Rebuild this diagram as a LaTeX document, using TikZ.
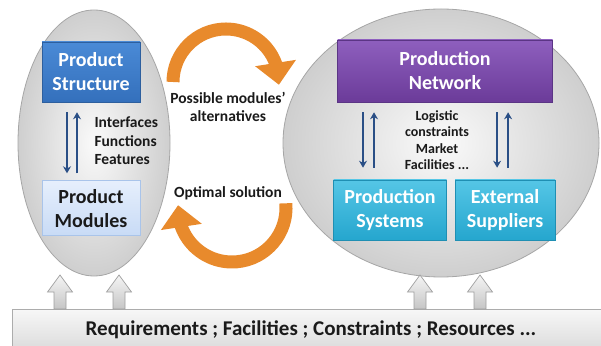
\documentclass[tikz,border=0pt]{standalone}
\usepackage{fontspec}
\setmainfont{Carlito}
\usetikzlibrary{arrows.meta, bending, positioning}

\definecolor{structtop}{HTML}{4A8AD6}
\definecolor{structbot}{HTML}{3470BC}
\definecolor{structline}{HTML}{2D5F9E}
\definecolor{modtop}{HTML}{E6EFFC}
\definecolor{modbot}{HTML}{C8DBF6}
\definecolor{modline}{HTML}{A9C4EA}
\definecolor{nettop}{HTML}{8E5FBE}
\definecolor{netbot}{HTML}{6B3B99}
\definecolor{netline}{HTML}{5B3585}
\definecolor{systop}{HTML}{55C6E6}
\definecolor{sysbot}{HTML}{25A6CE}
\definecolor{sysline}{HTML}{1F8FB3}
\definecolor{swoopcol}{HTML}{E88A2C}
\definecolor{linkcol}{HTML}{2A4F86}
\definecolor{txtcol}{HTML}{1A1A1A}

\tikzset{
  cloud/.style={draw=gray!70, line width=0.8pt, inner color=gray!4, outer color=gray!38},
  box/.style={draw, line width=0.6pt, inner sep=0pt, align=center, text=white,
    font=\bfseries\fontsize{20}{24}\selectfont},
  link/.style={draw=linkcol, line width=2pt, -{Stealth[length=7pt,width=8pt]}},
  swoop/.style={draw=swoopcol, line width=13pt, -{Triangle[length=22pt,width=40pt]}},
  hollow/.style={draw=gray!75, line width=0.7pt, top color=gray!8, bottom color=gray!45},
  note/.style={text=txtcol, font=\bfseries\fontsize{15.5}{18.5}\selectfont},
}

\begin{document}
\begin{tikzpicture}[x=1pt,y=1pt]
\useasboundingbox (0,0) rectangle (601,345);

% the two domains
\path[cloud] (94,202) ellipse [x radius=76, y radius=133];
\path[cloud] (441,202) ellipse [x radius=158, y radius=134];

% product side
\node [box, top color=structtop, bottom color=structbot, draw=structline,
  minimum width=98pt, minimum height=60pt] (ps) at (91,273) {Product\\Structure};
\node [box, top color=modtop, bottom color=modbot, draw=modline, text=txtcol,
  minimum width=98pt, minimum height=55pt, below=78pt of ps] (pm) {Product\\Modules};

% production side
\node [box, top color=nettop, bottom color=netbot, draw=netline,
  minimum width=215pt, minimum height=62pt] (pn) at (445,274) {Production\\Network};
\node [box, top color=systop, bottom color=sysbot, draw=sysline,
  minimum width=113pt, minimum height=60pt] (sys) at (390,135) {Production\\Systems};
\node [box, top color=systop, bottom color=sysbot, draw=sysline,
  minimum width=100pt, minimum height=60pt, right=8pt of sys] (sup) {External\\Suppliers};

% links inside the domains
\draw [link, shorten <=10pt, shorten >=7pt] ([xshift=-24pt]ps.south) -- ([xshift=-24pt]pm.north);
\draw [link, shorten <=7pt, shorten >=10pt] ([xshift=-14pt]pm.north) -- ([xshift=-14pt]ps.south);

\draw [link, shorten <=10pt, shorten >=12pt] ([xshift=-27pt]sys.north |- pn.south) -- ([xshift=-27pt]sys.north);
\draw [link, shorten <=12pt, shorten >=10pt] ([xshift=-16pt]sys.north) -- ([xshift=-16pt]sys.north |- pn.south);
\draw [link, shorten <=10pt, shorten >=12pt] ([xshift=-8pt]sup.north |- pn.south) -- ([xshift=-8pt]sup.north);
\draw [link, shorten <=12pt, shorten >=10pt] ([xshift=3pt]sup.north) -- ([xshift=3pt]sup.north |- pn.south);

\node [note, anchor=west, align=left] (attr) at (91,204) {Interfaces\\Functions\\Features};
\node [note, align=center, font=\bfseries\fontsize{14}{16.5}\selectfont] (logi) at (437,205)
  {Logistic\\constraints\\Market\\Facilities ...};

% exchange between the domains
\coordinate (altstart) at (173,263);
\coordinate (optstart) at (285.8,141.7);
\draw [swoop] (altstart) arc [start angle=180, end angle=-3, radius=53];
\draw [swoop] (optstart) arc [start angle=5, end angle=-183, radius=54];
\node [note, align=center] (alt) at (228,238) {Possible modules'\\alternatives};
\node [note] (opt) at (228,152) {Optimal solution};

% inputs
\node [draw=gray!65, line width=0.7pt, top color=gray!6, bottom color=gray!28,
  minimum width=598pt, minimum height=41pt, text=txtcol,
  font=\bfseries\fontsize{21}{25}\selectfont] (req) at (311,15.5)
  {Requirements ; Facilities ; Constraints ; Resources ...};
\foreach \x in {60,119,420,480}
  \draw [hollow] (\x-6,36) -- (\x-6,53) -- (\x-12.5,53) -- (\x,70)
    -- (\x+12.5,53) -- (\x+6,53) -- (\x+6,36) -- cycle;
\end{tikzpicture}
\end{document}
